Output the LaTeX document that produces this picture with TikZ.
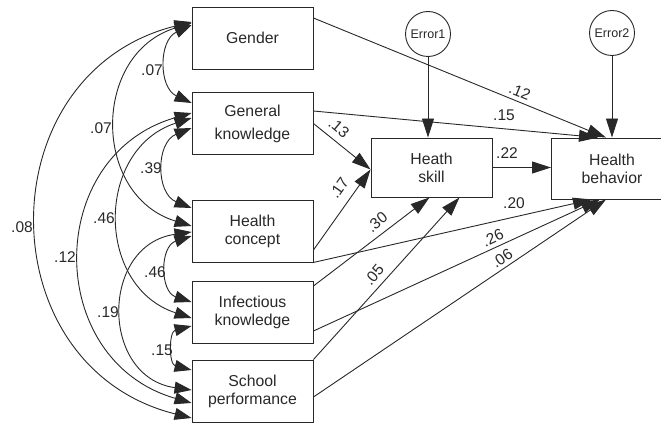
\documentclass[tikz,border=0pt]{standalone}
\usepackage{fontspec}
\setmainfont{Liberation Sans}
\usetikzlibrary{arrows.meta}
\definecolor{amosline}{RGB}{40,40,40}

\begin{document}
\begin{tikzpicture}[x=1pt,y=-1pt,
  var/.style={rectangle,draw=amosline,line width=0.9pt,minimum width=121pt,minimum height=62pt,
        align=center,inner sep=0pt,font=\fontsize{15.8}{18}\selectfont,text=amosline},
  err/.style={circle,draw=amosline,line width=0.9pt,minimum size=45pt,inner sep=0pt,
        font=\fontsize{12.5}{14}\selectfont,text=amosline},
  coef/.style={font=\fontsize{15.5}{18}\selectfont,text=amosline,inner sep=0pt},
  reg/.style={-{Triangle[length=19pt,width=12pt]},amosline,line width=0.9pt},
  cov/.style={{Triangle[length=17pt,width=12pt]}-{Triangle[length=17pt,width=12pt]},amosline,line width=0.9pt}
]
\clip (0,0) rectangle (661,425);
% observed variables
\node[var] (gender) at (252.5,38) {Gender};
\node[var] (genknow) at (252.5,123.5) {General\\[5pt]knowledge};
\node[var] (concept) at (252.5,231) {Health\\concept};
\node[var] (infect) at (252.5,312) {Infectious\\knowledge};
\node[var] (school) at (252.5,391) {School\\performance};
\node[var,minimum height=59pt] (skill) at (431.5,167.5) {Heath\\skill};
\node[var,minimum height=61pt] (behav) at (612,168.5) {Health\\behavior};
\node[err] (err1) at (428,34) {Error1};
\node[err] (err2) at (612,33) {Error2};
% regression paths
\draw[reg] (err1) -- (err1 |- skill.north);
\draw[reg] (err2) -- (err2 |- behav.north);
\draw[reg] (skill.east) -- (skill.east -| behav.west);
\draw[reg] ([yshift=20]gender.east) -- ([xshift=-6]behav.north);
\draw[reg] ([yshift=12.5]genknow.east) -- ([xshift=-14]behav.north);
\draw[reg] (genknow.east) -- ([yshift=-2]skill.west);
\draw[reg] ([yshift=-19]concept.east) -- ([yshift=-2]skill.west);
\draw[reg] ([yshift=26]infect.east) -- ([xshift=-2]skill.south);
\draw[reg] (school.north east) -- ([xshift=28]skill.south);
\draw[reg] (concept.south east) -- ([xshift=-20]behav.south);
\draw[reg] ([yshift=-19]infect.east) -- ([xshift=-12]behav.south);
\draw[reg] ([yshift=-6]school.east) -- ([xshift=-6]behav.south);
% covariances
\draw[cov] ([yshift=13]gender.west) to[out=205,in=155,looseness=1.2] ([yshift=20.5]genknow.west);
\draw[cov] ([yshift=15]gender.west) to[out=197,in=163,looseness=1.32] ([yshift=5]concept.west);
\draw[cov] ([yshift=16]gender.west) to[out=194,in=166,looseness=1.37] ([yshift=-27]school.west);
\draw[cov] ([yshift=-4.5]genknow.west) to[out=202,in=158,looseness=1.24] ([yshift=23]concept.west);
\draw[cov] ([yshift=5.5]genknow.west) to[out=198,in=162,looseness=1.3] ([yshift=-6]infect.west);
\draw[cov] ([yshift=10.5]genknow.west) to[out=196,in=164,looseness=1.36] ([yshift=-12]school.west);
\draw[cov] ([yshift=-5]concept.west) to[out=198,in=162,looseness=1.3] ([yshift=10]infect.west);
\draw[cov] ([yshift=-1]concept.west) to[out=188,in=172,looseness=1.5] ([yshift=1]school.west);
\draw[cov] ([yshift=-14]infect.west) to[out=194,in=166,looseness=1.37] ([yshift=21]school.west);
% coefficients
\node[coef] (c1) at (152,70) {.07};
\node[coef] (c2) at (101,128) {.07};
\node[coef] (c3) at (22,227) {.08};
\node[coef] (c4) at (151,168) {.39};
\node[coef] (c5) at (104,218) {.46};
\node[coef] (c6) at (65,257) {.12};
\node[coef] (c7) at (155,272) {.46};
\node[coef] (c8) at (108,312) {.19};
\node[coef] (c9) at (162,350) {.15};
\node[coef,rotate=-22] (c10) at (520,92) {.12};
\node[coef] (c11) at (504,115) {.15};
\node[coef] (c12) at (507,153) {.22};
\node[coef,rotate=-40] (c13) at (339,128) {.13};
\node[coef,rotate=55] (c14) at (339,188) {.17};
\node[coef,rotate=40] (c15) at (377,222) {.30};
\node[coef,rotate=50] (c16) at (374,275) {.05};
\node[coef] (c17) at (514,203) {.20};
\node[coef,rotate=25] (c18) at (493,238) {.26};
\node[coef,rotate=34] (c19) at (502,258) {.06};
\end{tikzpicture}
\end{document}
